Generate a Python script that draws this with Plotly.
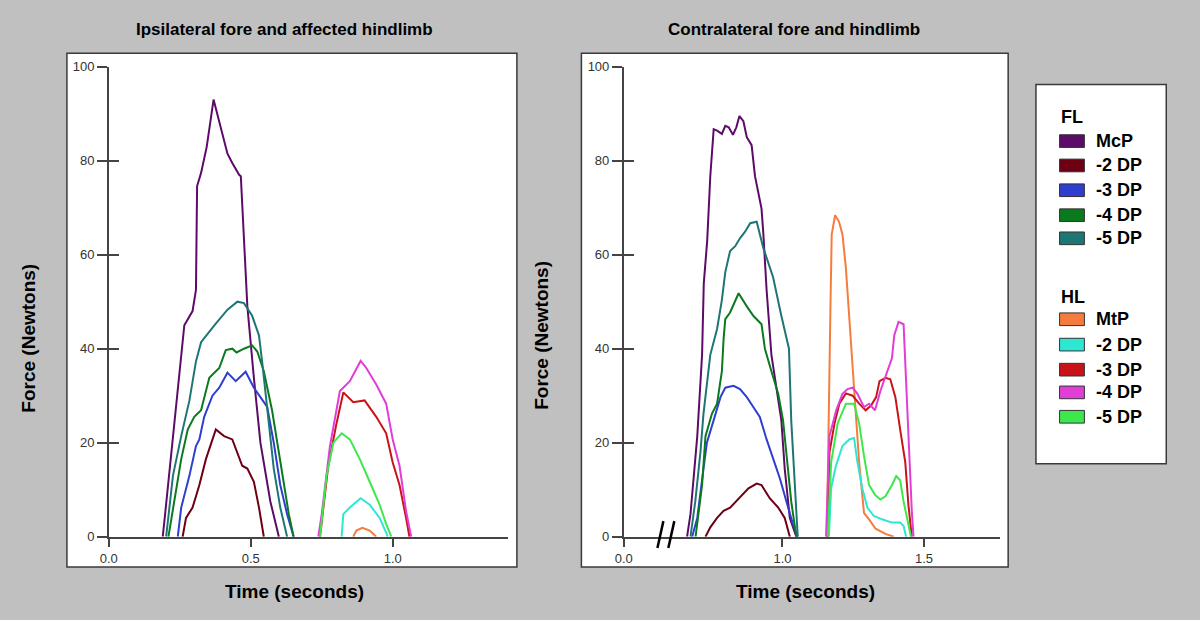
import plotly.graph_objects as go

# ---------------- DATA ----------------
series_names = ["McP", "-2 DP", "-3 DP", "-4 DP", "-5 DP", "MtP", "-2 DP", "-3 DP", "-4 DP", "-5 DP"]
series_groups = ["FL", "FL", "FL", "FL", "FL", "HL", "HL", "HL", "HL", "HL"]
series_colors = ["#5c0c68", "#6e0014", "#2e3fd0", "#0b7a1e", "#1e7674",
                 "#f57c3e", "#2ee6d4", "#c81418", "#e03ed6", "#3ce84c"]

# Left panel: Ipsilateral fore and affected hindlimb (time s, force N)
ipsi_fl_mcp_t = [0.19, 0.197, 0.266, 0.295, 0.307, 0.311, 0.325, 0.345, 0.369, 0.389, 0.418, 0.435, 0.459, 0.465, 0.488, 0.511, 0.534, 0.569, 0.599]
ipsi_fl_mcp_f = [0, 4, 45, 48, 52.5, 74.6, 77.4, 83, 93, 88.5, 81.5, 79.5, 77, 76.7, 49, 33.8, 20, 7.5, 0]
ipsi_fl_2dp_t = [0.26, 0.272, 0.295, 0.319, 0.342, 0.377, 0.406, 0.435, 0.47, 0.488, 0.511, 0.529, 0.546]
ipsi_fl_2dp_f = [0, 4, 6.2, 11, 16.5, 22.8, 21.4, 20.7, 15.1, 14.5, 11.7, 6.2, 0]
ipsi_fl_3dp_t = [0.243, 0.255, 0.284, 0.307, 0.319, 0.336, 0.365, 0.389, 0.418, 0.447, 0.482, 0.511, 0.534, 0.558, 0.581, 0.604, 0.628, 0.651]
ipsi_fl_3dp_f = [0, 6.2, 13, 19.3, 20.7, 25.5, 30, 31.7, 34.9, 33.1, 35.1, 31.7, 29.7, 27.6, 20, 11, 4.8, 0]
ipsi_fl_4dp_t = [0.21, 0.231, 0.255, 0.278, 0.301, 0.325, 0.354, 0.389, 0.412, 0.435, 0.45, 0.476, 0.505, 0.523, 0.546, 0.575, 0.593, 0.616, 0.634, 0.651]
ipsi_fl_4dp_f = [0, 7.5, 16.5, 22.8, 25.5, 26.9, 33.8, 35.9, 39.7, 40, 39.2, 40, 40.7, 39.4, 35.2, 26.9, 20, 11.7, 4.8, 0]
ipsi_fl_5dp_t = [0.202, 0.226, 0.255, 0.284, 0.307, 0.325, 0.371, 0.418, 0.453, 0.476, 0.505, 0.529, 0.54, 0.558, 0.581, 0.604, 0.628]
ipsi_fl_5dp_f = [0, 13, 21.4, 29, 37.3, 41.4, 44.9, 48.3, 50, 49.7, 47, 42.8, 37.3, 26.9, 14.5, 6.2, 0]
ipsi_hl_mtp_t = [0.861, 0.872, 0.893, 0.919, 0.942]
ipsi_hl_mtp_f = [0, 1.3, 1.9, 1.3, 0]
ipsi_hl_2dp_t = [0.82, 0.826, 0.849, 0.887, 0.919, 0.954, 0.983]
ipsi_hl_2dp_f = [0, 4.8, 6.2, 8.2, 6.8, 4, 0]
ipsi_hl_3dp_t = [0.744, 0.773, 0.802, 0.826, 0.861, 0.901, 0.942, 0.977, 1.0, 1.024, 1.047, 1.059]
ipsi_hl_3dp_f = [0, 15.1, 24.1, 30.7, 28.6, 29, 25.5, 22, 15.8, 11, 4, 0]
ipsi_hl_4dp_t = [0.738, 0.75, 0.779, 0.797, 0.814, 0.849, 0.887, 0.907, 0.942, 0.977, 1.0, 1.024, 1.047, 1.065]
ipsi_hl_4dp_f = [0, 4.8, 19.3, 25.5, 31, 33.1, 37.4, 35.9, 32.4, 28.3, 20.7, 15.1, 5.5, 0]
ipsi_hl_5dp_t = [0.744, 0.767, 0.791, 0.82, 0.849, 0.884, 0.919, 0.954, 0.977, 0.995]
ipsi_hl_5dp_f = [0, 13, 20, 22, 20.7, 16.5, 11.7, 6.8, 2.7, 0]

# Right panel: Contralateral fore and hindlimb (time s, force N)
contra_fl_mcp_t = [0.663, 0.675, 0.699, 0.716, 0.722, 0.734, 0.745, 0.757, 0.769, 0.786, 0.798, 0.81, 0.825, 0.837, 0.848, 0.862, 0.874, 0.891, 0.903, 0.915, 0.926, 0.932, 0.944, 0.961, 0.979, 0.996, 1.008, 1.026, 1.049]
contra_fl_mcp_f = [0, 4.8, 21.4, 38.7, 53.9, 62.9, 76.7, 86.7, 86.4, 85.7, 87.4, 87.1, 85.5, 87.1, 89.5, 88.4, 85, 83.3, 76.7, 73.2, 69.8, 64.9, 52.5, 38.7, 31.7, 24.8, 14.5, 4, 0]
contra_fl_2dp_t = [0.728, 0.745, 0.769, 0.792, 0.815, 0.845, 0.88, 0.909, 0.926, 0.955, 0.985, 1.008, 1.026]
contra_fl_2dp_f = [0, 2, 4, 5.5, 6.2, 8.2, 10.3, 11.3, 11, 8.2, 6.2, 4, 0]
contra_fl_3dp_t = [0.681, 0.699, 0.721, 0.733, 0.757, 0.781, 0.798, 0.827, 0.85, 0.874, 0.897, 0.92, 0.944, 0.967, 0.991, 1.014, 1.037, 1.054]
contra_fl_3dp_f = [0, 4, 14.5, 20, 24.8, 29.7, 31.7, 32.1, 31.4, 29.7, 27.6, 25.5, 20.7, 16.5, 12.4, 7.5, 2.7, 0]
contra_fl_4dp_t = [0.693, 0.716, 0.728, 0.751, 0.769, 0.786, 0.792, 0.798, 0.815, 0.845, 0.874, 0.897, 0.926, 0.938, 0.961, 0.985, 1.002, 1.014, 1.031, 1.049]
contra_fl_4dp_f = [0, 11, 21.4, 26.2, 28.3, 35.2, 42.1, 46.3, 47.7, 51.8, 49, 47, 45.2, 40, 35.2, 30.4, 24.8, 17.9, 7.5, 0]
contra_fl_5dp_t = [0.675, 0.692, 0.71, 0.721, 0.745, 0.769, 0.786, 0.798, 0.815, 0.833, 0.851, 0.868, 0.886, 0.909, 0.932, 0.967, 0.996, 1.023, 1.031, 1.043, 1.054]
contra_fl_5dp_f = [0, 7.5, 17.9, 26.2, 38.7, 44.2, 50.4, 56.3, 60.8, 61.8, 63.6, 64.9, 66.7, 67, 61.5, 55.2, 47, 40, 24.8, 11, 0]
contra_hl_mtp_t = [1.157, 1.164, 1.17, 1.174, 1.186, 1.2, 1.212, 1.224, 1.236, 1.248, 1.259, 1.271, 1.282, 1.288, 1.306, 1.329, 1.364, 1.393]
contra_hl_mtp_f = [0, 22.8, 50.4, 64.3, 68.4, 67, 64.3, 57.3, 47, 36.6, 26.2, 15.8, 8.9, 5.1, 3.7, 1.7, 0.6, 0]
contra_hl_2dp_t = [1.164, 1.172, 1.189, 1.212, 1.236, 1.253, 1.265, 1.282, 1.3, 1.323, 1.352, 1.387, 1.416, 1.428, 1.437]
contra_hl_2dp_f = [0, 10.3, 15.1, 19.3, 20.7, 21, 15.8, 10.3, 6.2, 4.4, 3.7, 3, 3, 2.3, 0]
contra_hl_3dp_t = [1.16, 1.166, 1.184, 1.201, 1.224, 1.248, 1.271, 1.294, 1.313, 1.331, 1.343, 1.364, 1.381, 1.399, 1.416, 1.434, 1.445, 1.457]
contra_hl_3dp_f = [0, 17.9, 24.1, 28.3, 30.5, 30, 28.3, 26.9, 27.9, 29.7, 33.1, 33.8, 33.5, 29.7, 22.8, 15.8, 6.8, 0]
contra_hl_4dp_t = [1.154, 1.166, 1.19, 1.212, 1.23, 1.248, 1.265, 1.288, 1.306, 1.327, 1.346, 1.37, 1.387, 1.395, 1.41, 1.428, 1.434, 1.445, 1.457, 1.463]
contra_hl_4dp_f = [0, 21.4, 26.9, 30.4, 31.4, 31.7, 30.4, 27.6, 28.3, 26.9, 31, 35.2, 38, 42.8, 45.7, 45.2, 36.6, 19.3, 5.5, 0]
contra_hl_5dp_t = [1.16, 1.172, 1.195, 1.224, 1.253, 1.271, 1.288, 1.306, 1.327, 1.346, 1.364, 1.387, 1.402, 1.416, 1.428, 1.445, 1.454]
contra_hl_5dp_f = [0, 15.8, 24.1, 28.3, 28.3, 24.1, 17.2, 11, 8.9, 7.9, 8.6, 11, 12.9, 12, 7.5, 2.7, 0]

y_tickvals = [0, 20, 40, 60, 80, 100]
left_x_tickvals = [0.0, 0.5, 1.0]
left_x_ticktext = ["0.0", "0.5", "1.0"]
right_x_tickvals = [0.439, 1.0, 1.5]   # axis start is broken: labelled 0.0
right_x_ticktext = ["0.0", "1.0", "1.5"]

left_series = [(ipsi_fl_mcp_t, ipsi_fl_mcp_f), (ipsi_fl_2dp_t, ipsi_fl_2dp_f), (ipsi_fl_3dp_t, ipsi_fl_3dp_f),
               (ipsi_fl_4dp_t, ipsi_fl_4dp_f), (ipsi_fl_5dp_t, ipsi_fl_5dp_f), (ipsi_hl_mtp_t, ipsi_hl_mtp_f),
               (ipsi_hl_2dp_t, ipsi_hl_2dp_f), (ipsi_hl_3dp_t, ipsi_hl_3dp_f), (ipsi_hl_4dp_t, ipsi_hl_4dp_f),
               (ipsi_hl_5dp_t, ipsi_hl_5dp_f)]
right_series = [(contra_fl_mcp_t, contra_fl_mcp_f), (contra_fl_2dp_t, contra_fl_2dp_f), (contra_fl_3dp_t, contra_fl_3dp_f),
                (contra_fl_4dp_t, contra_fl_4dp_f), (contra_fl_5dp_t, contra_fl_5dp_f), (contra_hl_mtp_t, contra_hl_mtp_f),
                (contra_hl_2dp_t, contra_hl_2dp_f), (contra_hl_3dp_t, contra_hl_3dp_f), (contra_hl_4dp_t, contra_hl_4dp_f),
                (contra_hl_5dp_t, contra_hl_5dp_f)]

# ---------------- FIGURE ----------------
# The page keeps its default 8px body margin; the figure is sized so the page is exactly 1200x620.
OFF = 8
W, H = 1200 - OFF, 620 - 2 * OFF
def px(x):            # x given in window pixels
    return (x - OFF) / W
def py(y):            # y given in window pixels (from top)
    return 1 - (y - OFF) / H

FONT = "Arial, Liberation Sans, sans-serif"
fig = go.Figure()

order = [5, 6, 7, 8, 9, 0, 1, 2, 3, 4]
for i in order:
    t, f = left_series[i]
    fig.add_trace(go.Scatter(x=t, y=f, mode="lines", line=dict(color=series_colors[i], width=2),
                             xaxis="x", yaxis="y", showlegend=False, hoverinfo="skip"))
for i in order:
    t, f = right_series[i]
    fig.add_trace(go.Scatter(x=t, y=f, mode="lines", line=dict(color=series_colors[i], width=2),
                             xaxis="x2", yaxis="y2", showlegend=False, hoverinfo="skip"))

y_dom = [py(543), py(61)]
xl_dom = [px(100.5), px(503)]
xr_dom = [px(619.3), px(998)]

axis_common = dict(showgrid=False, zeroline=False, showline=True, linecolor="#444444", linewidth=1.5,
                   tickcolor="#444444", tickfont=dict(family=FONT, size=13, color="#333333"))

fig.update_layout(
    width=W, height=H, autosize=False,
    margin=dict(l=0, r=0, t=0, b=0, pad=0),
    paper_bgcolor="#c0c0c0",
    plot_bgcolor="rgba(0,0,0,0)",
    xaxis=dict(domain=xl_dom, range=[0, 1.407], anchor="y", tickvals=left_x_tickvals, ticktext=left_x_ticktext,
               ticks="outside", ticklen=9, tickwidth=1.5, **axis_common),
    yaxis=dict(domain=y_dom, range=[0, 100], anchor="x", tickvals=y_tickvals,
               ticks="outside", ticklen=10, tickwidth=1.5, **axis_common),
    xaxis2=dict(domain=xr_dom, range=[0.439, 1.767], anchor="y2", tickvals=right_x_tickvals, ticktext=right_x_ticktext,
                ticks="outside", ticklen=9, tickwidth=1.5, **axis_common),
    yaxis2=dict(domain=y_dom, range=[0, 100], anchor="x2", tickvals=y_tickvals,
                ticks="outside", ticklen=10, tickwidth=1.5, **axis_common),
    yaxis3=dict(domain=y_dom, range=[0, 100], anchor="x", overlaying="y", tickvals=y_tickvals,
                ticks="inside", ticklen=10, tickwidth=1.5, tickcolor="#444444", showticklabels=False,
                showline=False, showgrid=False, zeroline=False),
    yaxis4=dict(domain=y_dom, range=[0, 100], anchor="x2", overlaying="y2", tickvals=y_tickvals,
                ticks="inside", ticklen=10, tickwidth=1.5, tickcolor="#444444", showticklabels=False,
                showline=False, showgrid=False, zeroline=False),
)
fig.add_trace(go.Scatter(x=[None], y=[None], xaxis="x", yaxis="y3", showlegend=False))
fig.add_trace(go.Scatter(x=[None], y=[None], xaxis="x2", yaxis="y4", showlegend=False))

shapes = []
for (x0, y0, x1, y1) in [(58.3, 47.3, 511.7, 574), (576.7, 47.3, 1006.7, 574), (1034.7, 79.3, 1166, 468.3)]:
    shapes.append(dict(type="rect", xref="paper", yref="paper", x0=px(x0), x1=px(x1), y0=py(y1), y1=py(y0),
                       fillcolor="white", line=dict(color="#3a3a3a", width=1.5), layer="below"))
for (x0, y0, x1, y1) in [(653.3, 554.5, 659.3, 527), (664.3, 554.5, 670.3, 527)]:
    shapes.append(dict(type="line", xref="paper", yref="paper", x0=px(x0), x1=px(x1), y0=py(y0), y1=py(y1),
                       line=dict(color="black", width=2.5)))

annotations = []
def text(x, y, s, size, bold=True, angle=0, xanchor="center", color="black"):
    annotations.append(dict(x=px(x), y=py(y), xref="paper", yref="paper", text=("<b>%s</b>" % s) if bold else s,
                            showarrow=False, textangle=angle, xanchor=xanchor, yanchor="middle",
                            font=dict(family=FONT, size=size, color=color)))

text(278, 23, "Ipsilateral fore and affected hindlimb", 17)
text(791, 23, "Contralateral fore and hindlimb", 17)
text(20, 339, "Force (Newtons)", 19, angle=-90)
text(537, 337, "Force (Newtons)", 19, angle=-90)
text(288, 599, "Time (seconds)", 19)
text(802, 599, "Time (seconds)", 19)

text(1058, 113, "FL", 18, xanchor="left")
text(1058, 297, "HL", 18, xanchor="left")
row_y = [137.3, 162.3, 187.7, 213.3, 237, 320, 346, 371.7, 395, 420]
for i, name in enumerate(series_names):
    yc = row_y[i]
    shapes.append(dict(type="rect", xref="paper", yref="paper", x0=px(1058.5), x1=px(1083.5),
                       y0=py(yc + 6.5), y1=py(yc - 6.5), fillcolor=series_colors[i],
                       line=dict(color="#333333", width=1)))
    text(1093, yc, name, 18, xanchor="left")

fig.update_layout(shapes=shapes, annotations=annotations)

post = "document.body.style.background='#c0c0c0';document.documentElement.style.background='#c0c0c0';"
fig.write_html("out.html", config={"responsive": False, "displayModeBar": False}, post_script=post)
